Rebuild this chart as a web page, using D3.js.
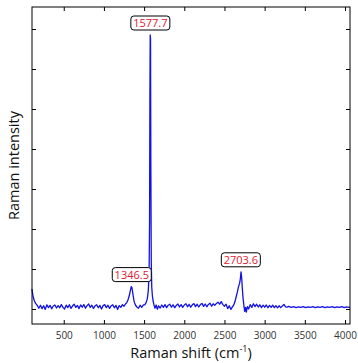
<!DOCTYPE html>
<html><head><meta charset="utf-8">
<script src="https://cdn.jsdelivr.net/npm/d3@7"></script>
<style>body{margin:0;background:#fff}svg{display:block}</style>
</head><body><svg id="c" width="358" height="363"></svg>
<script>
const shift = [105,110,120,135,150,170,190,210,230,250,270,290,310,330,350,370,390,410,430,450,470,490,510,530,550,570,590,610,630,650,670,690,710,730,750,770,790,810,830,850,870,890,910,930,950,970,990,1010,1030,1050,1070,1090,1110,1130,1150,1170,1190,1210,1230,1250,1270,1285,
1300,1315,1330,1340,1348,1356,1366,1378,1392,1410,1430,1450,1470,1490,1510,1525,1540,1552,
1562,1568,1572,1576,1580,1584,1589,1595,1603,1612,1622,1635,1650,1665,1680,1700,1720,1740,1760,1780,1800,1820,1840,1860,1880,1900,1920,1940,1960,1980,2000,2020,2040,2060,2080,2100,2120,2140,2160,2180,2200,2220,2240,2260,2280,2300,2320,2340,2360,2380,2400,2420,2440,2460,2480,2500,2520,2540,2560,2580,2600,2615,
2630,2645,2660,2675,2688,2698,2706,2714,2722,2732,2742,2752,2762,2772,2785,2800,2820,2840,2860,2880,2900,2920,2940,2960,2980,3000,3020,3040,3060,3080,3100,3120,3140,3160,3180,3200,3220,3240,3260,3280,3300,3330,3360,3390,3420,3450,3480,3510,3540,3570,3600,3630,3660,3690,3720,3750,3780,3810,3840,3870,3900,3930,3960,3990,4020,4050,4060];
const intensity = [500,420,300,200,140,90,20,95,10,80,-10,105,35,90,5,75,100,25,85,30,110,40,0,95,35,105,15,80,120,40,90,10,100,45,110,20,85,125,40,95,15,80,105,30,90,0,85,110,35,95,15,80,105,30,90,-10,85,40,110,70,130,160,
230,330,470,560,540,440,300,170,100,50,20,95,40,100,110,160,260,450,
900,2200,5300,6850,6750,3500,1200,550,330,200,110,20,100,-5,80,25,100,40,110,35,95,120,45,105,30,90,125,50,110,40,100,130,55,115,45,105,135,60,120,50,110,140,65,125,55,115,145,70,130,90,140,170,120,185,110,70,120,10,80,-10,60,100,
180,300,420,560,640,760,930,780,520,260,80,-60,40,-80,60,0,110,40,130,60,120,50,105,35,95,45,100,30,90,40,95,35,85,30,80,35,75,115,55,45,65,40,60,35,55,40,60,35,55,40,60,35,55,40,60,35,55,40,60,35,55,40,60,35,55,40,50];
const xTicks = [500,1000,1500,2000,2500,3000,3500,4000];
const yTicks = [0,1000,2000,3000,4000,5000,6000,7000];
const peaks = [1346.5,1577.7,2703.6];
const peakLabels = ["1346.5","1577.7","2703.6"];

const svg = d3.select("#c");
const m = {l:32,r:8,t:7,b:39};
const W = 358, H = 363;
const x = d3.scaleLinear().domain([105,4062]).range([m.l, W-m.r]);
const y = d3.scaleLinear().domain([-375,7550]).range([H-m.b, m.t]);
const font = "'Open Sans', 'DejaVu Sans', sans-serif";

const data = shift.map((s,i)=>({s, v:intensity[i]}));
const line = d3.line().x(d=>x(d.s)).y(d=>y(d.v));
svg.append("path").datum(data).attr("d",line).attr("fill","none")
  .attr("stroke","#1212e6").attr("stroke-width",1.3).attr("stroke-linejoin","round");

svg.append("rect").attr("x",m.l).attr("y",m.t).attr("width",W-m.r-m.l).attr("height",H-m.b-m.t)
  .attr("fill","none").attr("stroke","#000").attr("stroke-width",1);

const tl = 4;
const gB = svg.append("g").attr("transform",`translate(0,${H-m.b})`)
  .call(d3.axisBottom(x).tickValues(xTicks).tickFormat(d3.format("d")).tickSizeInner(-tl).tickSizeOuter(0).tickPadding(8));
gB.select(".domain").remove();
gB.selectAll("text").attr("font-family",font).attr("font-size",10).attr("fill","#333");
const gT = svg.append("g").attr("transform",`translate(0,${m.t})`)
  .call(d3.axisTop(x).tickValues(xTicks).tickSizeInner(-tl).tickSizeOuter(0).tickFormat(""));
gT.select(".domain").remove();
const gL = svg.append("g").attr("transform",`translate(${m.l},0)`)
  .call(d3.axisLeft(y).tickValues(yTicks).tickSizeInner(-tl).tickSizeOuter(0).tickFormat(""));
gL.select(".domain").remove();
const gR = svg.append("g").attr("transform",`translate(${W-m.r},0)`)
  .call(d3.axisRight(y).tickValues(yTicks).tickSizeInner(-tl).tickSizeOuter(0).tickFormat(""));
gR.select(".domain").remove();

svg.append("text").attr("x",(m.l+W-m.r)/2).attr("y",358).attr("text-anchor","middle")
  .attr("font-family",font).attr("font-size",14.5).attr("fill","#111")
  .html("Raman shift (cm<tspan baseline-shift='super' font-size='9'>-1</tspan>)");
svg.append("text").attr("transform",`translate(19,${(m.t+H-m.b)/2}) rotate(-90)`).attr("text-anchor","middle")
  .attr("font-family",font).attr("font-size",14.5).attr("fill","#111").text("Raman intensity");

peaks.forEach((p,i)=>{
  const near = data.filter(d=>Math.abs(d.s-p) < 40);
  const pv = d3.max(near, d=>d.v);
  const cx = x(p), cy = y(pv) - 12;
  const g = svg.append("g");
  g.append("rect").attr("x",cx-19.5).attr("y",cy-7).attr("width",39).attr("height",14).attr("rx",3)
    .attr("fill","#fff").attr("stroke","#000").attr("stroke-width",1);
  g.append("text").attr("x",cx).attr("y",cy+4).attr("text-anchor","middle")
    .attr("font-family",font).attr("font-size",11).attr("fill","#e02030").text(peakLabels[i]);
});
</script></body></html>
